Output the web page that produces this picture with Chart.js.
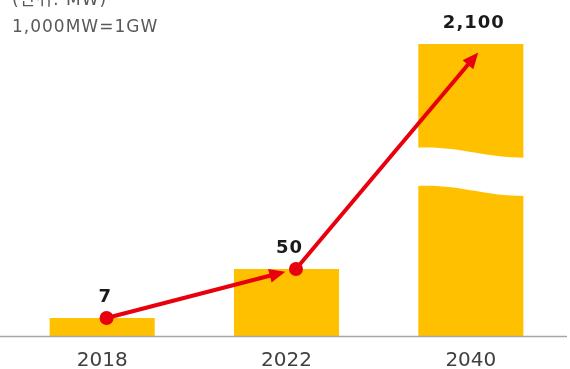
<!DOCTYPE html>
<html>
<head>
<meta charset="utf-8">
<script src="https://cdn.jsdelivr.net/npm/chart.js@4.4.1/dist/chart.umd.min.js"></script>
<style>
  html, body { margin: 0; padding: 0; background: #fff; }
  #wrap { width: 570px; height: 369px; position: relative; }
</style>
</head>
<body>
<div id="wrap"><canvas id="capacityChart"></canvas></div>
<script>
// Installed capacity in MW
const years = ['2018', '2022', '2040'];
const capacity = [7, 50, 2100];
const unitNote = ['(단위: MW)', '1,000MW=1GW'];

const GOLD = '#ffc000';
const RED = '#e8000e';

// Value axis: power-scaled below `from`, cut out between `from` and `to`, linear above
class BrokenScale extends Chart.LinearScale {
    static id = 'broken';
    static defaults = Chart.LinearScale.defaults;

    _frac(v) {
        const c = this.options.cut;
        if (v <= c.from) return c.low * Math.pow(Math.max(v, 0) / c.from, c.exponent);
        if (v >= c.to) return c.high + (1 - c.high) * (v - c.to) / (this.max - c.to);
        return c.low + (c.high - c.low) * (v - c.from) / (c.to - c.from);
    }

    getPixelForValue(value) {
        return this.bottom - this._frac(value) * (this.bottom - this.top);
    }

    getValueForPixel(pixel) {
        const c = this.options.cut;
        const f = (this.bottom - pixel) / (this.bottom - this.top);
        if (f <= c.low) return c.from * Math.pow(Math.max(f, 0) / c.low, 1 / c.exponent);
        if (f >= c.high) return c.to + (f - c.high) / (1 - c.high) * (this.max - c.to);
        return c.from + (f - c.low) / (c.high - c.low) * (c.to - c.from);
    }
}
Chart.register(BrokenScale);

// White wavy band across bars that pass the cut
function drawCut(ctx, x0, x1, yTop, yBot) {
    const w = x1 - x0, drop = 10;
    ctx.beginPath();
    ctx.moveTo(x0, yTop);
    ctx.bezierCurveTo(x0 + w * 0.4, yTop - 2, x0 + w * 0.6, yTop + drop, x1, yTop + drop);
    ctx.lineTo(x1, yBot + drop);
    ctx.bezierCurveTo(x0 + w * 0.6, yBot + drop, x0 + w * 0.4, yBot - 2, x0, yBot);
    ctx.closePath();
    ctx.fill();
}

// Arrow from a to b, stopping short of b
function drawArrow(ctx, a, b) {
    const dx = b.x - a.x, dy = b.y - a.y;
    const len = Math.hypot(dx, dy);
    const ux = dx / len, uy = dy / len;
    const tip = { x: b.x - ux * 11, y: b.y - uy * 11 };
    const head = 16, half = 7;
    ctx.beginPath();
    ctx.moveTo(a.x, a.y);
    ctx.lineTo(tip.x - ux * head * 0.7, tip.y - uy * head * 0.7);
    ctx.stroke();
    ctx.beginPath();
    ctx.moveTo(tip.x, tip.y);
    ctx.lineTo(tip.x - ux * head - uy * half, tip.y - uy * head + ux * half);
    ctx.lineTo(tip.x - ux * head + uy * half, tip.y - uy * head - ux * half);
    ctx.closePath();
    ctx.fill();
}

const decorations = {
    id: 'decorations',
    afterDatasetDraw(chart, args) {
        if (args.meta.type !== 'bar') return;
        const ctx = chart.ctx;
        const y = chart.scales.y;
        const cut = y.options.cut;
        ctx.save();

        // axis baseline
        ctx.strokeStyle = '#a6a6a6';
        ctx.lineWidth = 1.5;
        ctx.beginPath();
        ctx.moveTo(0, chart.chartArea.bottom + 0.5);
        ctx.lineTo(567, chart.chartArea.bottom + 0.5);
        ctx.stroke();

        // break band on tall bars
        ctx.fillStyle = '#fff';
        args.meta.data.forEach((bar, i) => {
            if (capacity[i] <= cut.to) return;
            drawCut(ctx, bar.x - bar.width / 2 - 2, bar.x + bar.width / 2 + 2,
                y.getPixelForValue(cut.to), y.getPixelForValue(cut.from));
        });

        // growth arrows between the points
        const pts = chart.getDatasetMeta(1).data;
        ctx.strokeStyle = RED;
        ctx.fillStyle = RED;
        ctx.lineWidth = 4;
        for (let i = 0; i < pts.length - 1; i++) {
            drawArrow(ctx, pts[i], pts[i + 1]);
        }
        ctx.restore();
    },
    afterDatasetsDraw(chart) {
        const ctx = chart.ctx;
        ctx.save();

        // value labels above the bars
        ctx.font = 'bold 18px "DejaVu Sans"';
        ctx.fillStyle = '#1a1a1a';
        ctx.textAlign = 'center';
        ctx.textBaseline = 'middle';
        ctx.letterSpacing = '1px';
        chart.getDatasetMeta(0).data.forEach((bar, i) => {
            ctx.fillText(capacity[i].toLocaleString('en-US'), bar.x + 3, bar.y - 21);
        });

        // unit note, top left
        ctx.font = '17px "DejaVu Sans", "Noto Sans CJK KR"';
        ctx.fillStyle = '#595959';
        ctx.textAlign = 'left';
        ctx.textBaseline = 'alphabetic';
        ctx.fillText(unitNote[0], 12, 5);
        ctx.fillText(unitNote[1], 12, 32);
        ctx.restore();
    }
};

const ctx = document.getElementById('capacityChart').getContext('2d');
const capacityChart = new Chart(ctx, {
    data: {
        labels: years,
        datasets: [{
            type: 'bar',
            xAxisID: 'x',
            data: capacity,
            backgroundColor: GOLD,
            borderWidth: 0,
            barPercentage: 0.57,
            categoryPercentage: 1,
            grouped: false,
            order: 1
        }, {
            type: 'line',
            xAxisID: 'trend',
            data: capacity.map((v, i) => ({ x: i, y: v })),
            showLine: false,
            pointRadius: [7, 7, 0],
            pointBackgroundColor: RED,
            pointBorderWidth: 0,
            order: 0
        }]
    },
    options: {
        responsive: true,
        maintainAspectRatio: false,
        animation: false,
        events: [],
        layout: { padding: { top: 44, left: 10, right: 2, bottom: -16 } },
        plugins: { legend: { display: false }, tooltip: { enabled: false } },
        scales: {
            x: {
                grid: { display: false, drawTicks: false },
                border: { display: false },
                ticks: {
                    color: '#404040',
                    padding: 15.5,
                    font: { family: 'DejaVu Sans', size: 20, lineHeight: 0.9 }
                }
            },
            // hidden x axis for the trend points, nudged a little right of the bar centres
            trend: {
                type: 'linear',
                display: false,
                min: -0.51,
                max: 2.41
            },
            y: {
                type: 'broken',
                display: false,
                min: 0,
                max: 2100,
                cut: { from: 167, to: 1900, low: 0.514, high: 0.645, exponent: 0.668 }
            }
        }
    },
    plugins: [decorations]
});
</script>
</body>
</html>
